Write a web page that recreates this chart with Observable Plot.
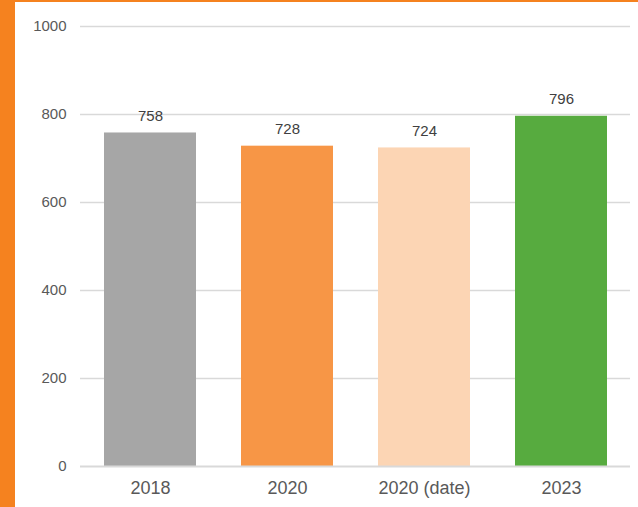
<!DOCTYPE html>
<html><head><meta charset="utf-8">
<script src="https://cdn.jsdelivr.net/npm/d3@7"></script>
<script src="https://cdn.jsdelivr.net/npm/@observablehq/plot@0.6"></script>
<style>
body{margin:0;background:#fff;}
#wrap{position:relative;width:638px;height:507px;overflow:hidden;}
#strip{position:absolute;left:0;top:0;width:15px;height:507px;background:#f5821f;}
#topline{position:absolute;left:0;top:0;width:638px;height:2px;background:#f5821f;}
#chart{position:absolute;left:0;top:0;}
</style></head>
<body><div id="wrap"><div id="chart"></div><div id="strip"></div><div id="topline"></div></div>
<script>
const categories = ["2018", "2020", "2020 (date)", "2023"];
const values = [758, 728, 724, 796];
const colors = ["#a6a6a6", "#f79646", "#fcd5b4", "#57ab3f"];
const yTicks = [0, 200, 400, 600, 800, 1000];

const data = categories.map((c, i) => ({cat: c, v: values[i], col: colors[i]}));

const chart = Plot.plot({
  width: 638, height: 507,
  marginLeft: 80, marginRight: 8, marginTop: 26, marginBottom: 41,
  style: {fontFamily: "'Liberation Sans', Arial, sans-serif", color: "#595959", background: "transparent"},
  x: {domain: categories, paddingInner: 0.33, paddingOuter: 0.165, label: null},
  y: {domain: [0, 1000], ticks: yTicks, label: null},
  marks: [
    Plot.ruleY(yTicks.filter(t => t > 0), {stroke: "#d9d9d9", strokeWidth: 1.5}),
    Plot.barY(data, {x: "cat", y: "v", fill: "col"}),
    Plot.ruleY([0], {stroke: "#d9d9d9", strokeWidth: 2}),
    Plot.text(data, {x: "cat", y: "v", text: d => String(d.v), dy: -17, fill: "#404040", fontSize: 15}),
    Plot.axisY({ticks: yTicks, tickFormat: d => String(d), tickSize: 0, tickPadding: 14, fontSize: 15, fill: "#595959"}),
    Plot.axisX({tickSize: 0, tickPadding: 15, fontSize: 18, fill: "#595959"})
  ]
});
document.getElementById("chart").appendChild(chart);
</script></body></html>
